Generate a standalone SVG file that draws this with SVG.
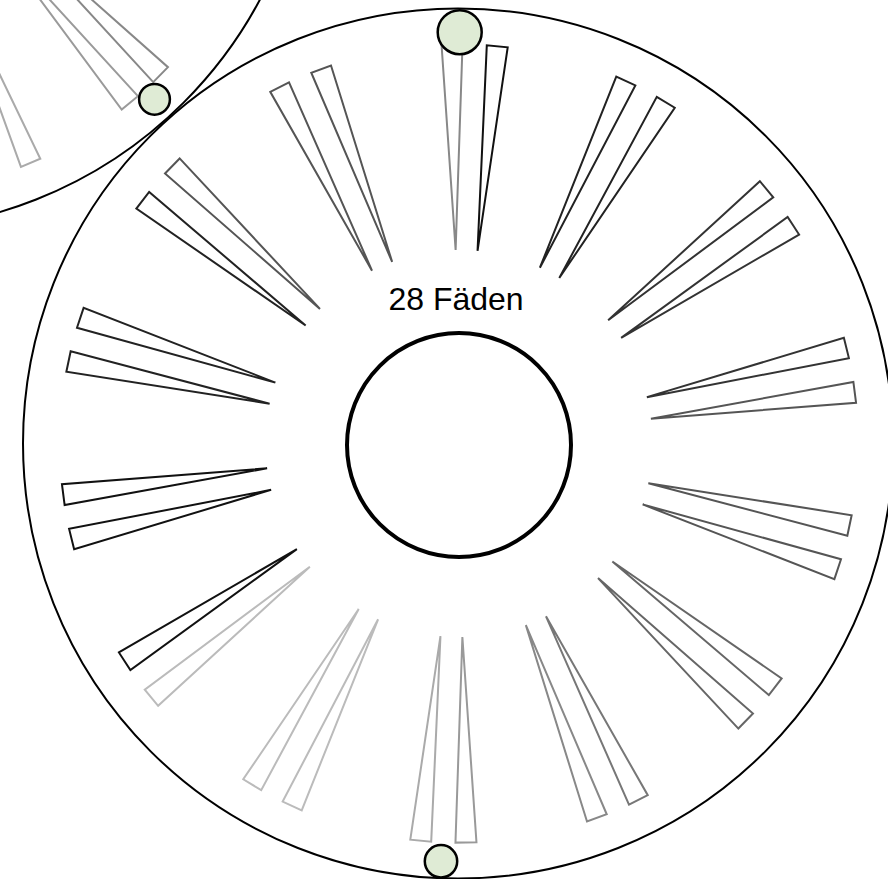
<svg xmlns="http://www.w3.org/2000/svg" xmlns:xlink="http://www.w3.org/1999/xlink" width="888" height="879" viewBox="0 0 888 879">
<style>
.rim{fill:none;stroke:#000;stroke-width:2}
.hub{fill:none;stroke:#000;stroke-width:4}
.dot{fill:#dfebd5;stroke:#000;stroke-width:2.5}
.w{fill:none;stroke-width:2}
.lbl{font-family:"Liberation Sans",Arial,sans-serif;font-size:32px;fill:#000}
</style>
<defs>
<polygon id="wedge" points="0,-193.5 10.5,-399 -10.5,-399"/>
</defs>
<rect width="888" height="879" fill="#fff"/>
<g id="wheel-top-left">
<g id="wedges-top-left" class="w">
<use xlink:href="#wedge" href="#wedge" transform="translate(-124 -205) rotate(134.5)" stroke="#888"/>
<use xlink:href="#wedge" href="#wedge" transform="translate(-124 -205) rotate(140.5)" stroke="#9a9a9a"/>
<use xlink:href="#wedge" href="#wedge" transform="translate(-124 -205) rotate(157.2)" stroke="#aaa"/>
<use xlink:href="#wedge" href="#wedge" transform="translate(-124 -205) rotate(163.7)" stroke="#aaa"/>
</g>
<circle id="rim-top-left" class="rim" cx="-124" cy="-205" r="435"/>
</g>
<g id="wheel-main">
<g id="wedges-main" class="w">
<use xlink:href="#wedge" href="#wedge" transform="translate(459 443.5) rotate(-1)" stroke="#888"/>
<use xlink:href="#wedge" href="#wedge" transform="translate(459 443.5) rotate(5.5)" stroke="#111"/>
<use xlink:href="#wedge" href="#wedge" transform="translate(459 443.5) rotate(24.714)" stroke="#222"/>
<use xlink:href="#wedge" href="#wedge" transform="translate(459 443.5) rotate(31.214)" stroke="#222"/>
<use xlink:href="#wedge" href="#wedge" transform="translate(459 443.5) rotate(50.429)" stroke="#333"/>
<use xlink:href="#wedge" href="#wedge" transform="translate(459 443.5) rotate(56.929)" stroke="#333"/>
<use xlink:href="#wedge" href="#wedge" transform="translate(459 443.5) rotate(76.143)" stroke="#333"/>
<use xlink:href="#wedge" href="#wedge" transform="translate(459 443.5) rotate(82.643)" stroke="#555"/>
<use xlink:href="#wedge" href="#wedge" transform="translate(459 443.5) rotate(101.857)" stroke="#555"/>
<use xlink:href="#wedge" href="#wedge" transform="translate(459 443.5) rotate(108.357)" stroke="#555"/>
<use xlink:href="#wedge" href="#wedge" transform="translate(459 443.5) rotate(127.571)" stroke="#666"/>
<use xlink:href="#wedge" href="#wedge" transform="translate(459 443.5) rotate(134.071)" stroke="#666"/>
<use xlink:href="#wedge" href="#wedge" transform="translate(459 443.5) rotate(153.286)" stroke="#777"/>
<use xlink:href="#wedge" href="#wedge" transform="translate(459 443.5) rotate(159.786)" stroke="#888"/>
<use xlink:href="#wedge" href="#wedge" transform="translate(459 443.5) rotate(179)" stroke="#999"/>
<use xlink:href="#wedge" href="#wedge" transform="translate(459 443.5) rotate(185.5)" stroke="#aaa"/>
<use xlink:href="#wedge" href="#wedge" transform="translate(459 443.5) rotate(204.714)" stroke="#bbb"/>
<use xlink:href="#wedge" href="#wedge" transform="translate(459 443.5) rotate(211.214)" stroke="#bbb"/>
<use xlink:href="#wedge" href="#wedge" transform="translate(459 443.5) rotate(230.429)" stroke="#bbb"/>
<use xlink:href="#wedge" href="#wedge" transform="translate(459 443.5) rotate(236.929)" stroke="#111"/>
<use xlink:href="#wedge" href="#wedge" transform="translate(459 443.5) rotate(256.143)" stroke="#111"/>
<use xlink:href="#wedge" href="#wedge" transform="translate(459 443.5) rotate(262.643)" stroke="#111"/>
<use xlink:href="#wedge" href="#wedge" transform="translate(459 443.5) rotate(281.857)" stroke="#222"/>
<use xlink:href="#wedge" href="#wedge" transform="translate(459 443.5) rotate(288.357)" stroke="#222"/>
<use xlink:href="#wedge" href="#wedge" transform="translate(459 443.5) rotate(307.571)" stroke="#222"/>
<use xlink:href="#wedge" href="#wedge" transform="translate(459 443.5) rotate(314.071)" stroke="#555"/>
<use xlink:href="#wedge" href="#wedge" transform="translate(459 443.5) rotate(333.286)" stroke="#555"/>
<use xlink:href="#wedge" href="#wedge" transform="translate(459 443.5) rotate(339.786)" stroke="#555"/>
</g>
<circle id="rim-main" class="rim" cx="458" cy="443.5" r="435"/>
<circle id="hub" class="hub" cx="459" cy="445" r="112"/>
<text id="label" class="lbl" x="456" y="309.5" text-anchor="middle">28 Fäden</text>
</g>
<g id="green-dots">
<circle id="dot-top" class="dot" cx="459.7" cy="32.2" r="22"/>
<circle id="dot-bottom" class="dot" cx="441" cy="861.3" r="16.2"/>
<circle id="dot-top-left" class="dot" cx="154.5" cy="99.3" r="15.4"/>
</g>
</svg>
